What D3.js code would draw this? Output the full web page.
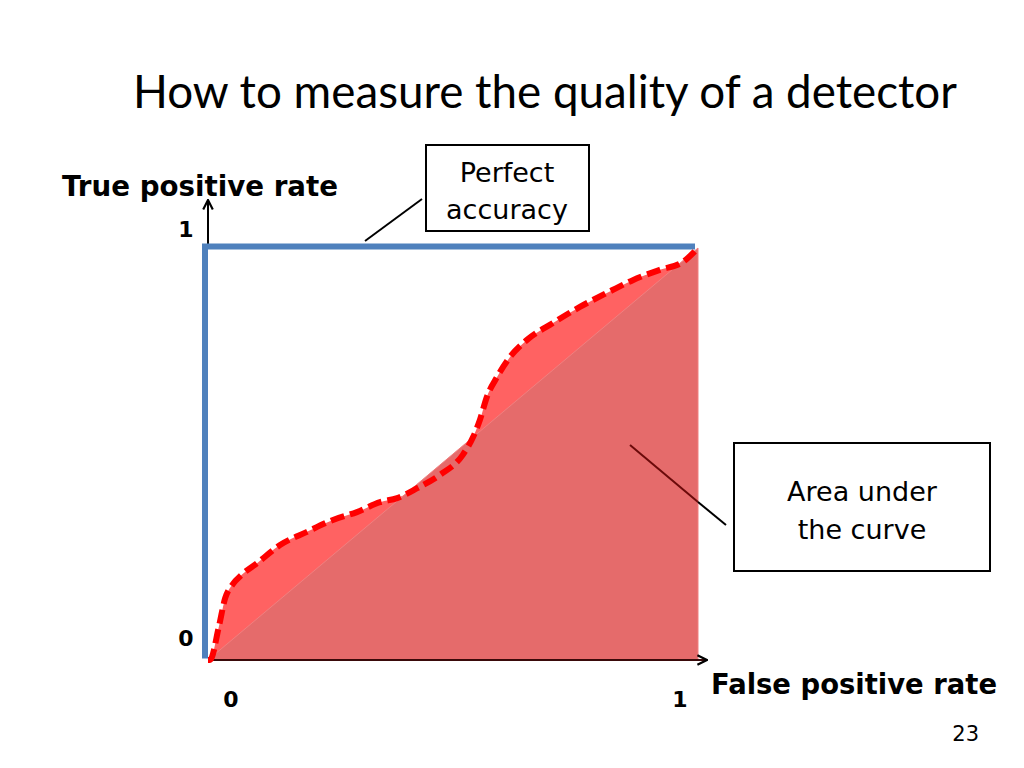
<!DOCTYPE html>
<html>
<head>
<meta charset="utf-8">
<script src="https://cdn.jsdelivr.net/npm/d3@7"></script>
<style>
  body { margin: 0; background: #fff; }
  svg { display: block; }
</style>
</head>
<body>
<div id="chart"></div>
<script>
// ROC curve (false positive rate, true positive rate)
const fpr = [0, 0.004, 0.022, 0.035, 0.05, 0.07, 0.10, 0.147, 0.202, 0.255, 0.304, 0.351, 0.386, 0.427, 0.473, 0.52, 0.541, 0.555, 0.569, 0.59, 0.616, 0.651, 0.704, 0.759, 0.814, 0.867, 0.922, 0.969, 1.0];
const tpr = [0, 0.0, 0.08, 0.15, 0.183, 0.208, 0.235, 0.279, 0.311, 0.34, 0.359, 0.383, 0.393, 0.417, 0.449, 0.498, 0.541, 0.583, 0.638, 0.687, 0.735, 0.777, 0.818, 0.857, 0.891, 0.922, 0.947, 0.966, 1.0];
const perfectFpr = [0, 0, 1];
const perfectTpr = [0, 1, 1];
const xTicks = [0, 1];
const yTicks = [0, 1];

const width = 1024;
const height = 768;

const svg = d3
    .select('#chart')
    .append('svg')
    .attr('width', width)
    .attr('height', height);

const x = d3.scaleLinear().domain([0, 1]).range([208, 698]);
const y = d3.scaleLinear().domain([0, 1]).range([660, 248]);

const roc = fpr.map((d, i) => ({ x: d, y: tpr[i] }));

// title
svg.append('text')
    .attr('x', 545)
    .attr('y', 108)
    .attr('text-anchor', 'middle')
    .style('font-family', 'Lato, "Noto Sans", sans-serif')
    .style('font-size', '47px')
    .attr('textLength', 824)
    .attr('lengthAdjust', 'spacingAndGlyphs')
    .text('How to measure the quality of a detector');

// area under the curve
const area = d3
    .area()
    .x((d) => x(d.x))
    .y0(y(0))
    .y1((d) => y(d.y))
    .curve(d3.curveMonotoneX);

svg.append('path')
    .datum(roc)
    .attr('d', area)
    .attr('fill', '#ff6262');

// random-guess triangle under the diagonal
const diag = [{ x: 0, y: 0 }, { x: 1, y: 1 }, { x: 1, y: 0 }];
svg.append('path')
    .datum(diag)
    .attr('d', d3.line().x((d) => x(d.x)).y((d) => y(d.y)))
    .attr('fill', '#e56b6b')
    .attr('stroke', '#f08080')
    .attr('stroke-width', 1);

// arrow marker
svg.append('defs')
    .append('marker')
    .attr('id', 'arrow')
    .attr('viewBox', '0 0 10 10')
    .attr('refX', 9)
    .attr('refY', 5)
    .attr('markerWidth', 6)
    .attr('markerHeight', 6)
    .attr('orient', 'auto')
    .append('path')
    .attr('d', 'M1,1 L9,5 L1,9')
    .attr('fill', 'none')
    .attr('stroke', '#000')
    .attr('stroke-width', 1.8);

// axes
svg.append('line')
    .attr('x1', x(0))
    .attr('y1', y(0))
    .attr('x2', x(1) + 9)
    .attr('y2', y(0))
    .attr('stroke', '#3a0a0a')
    .attr('stroke-width', 2)
    .attr('marker-end', 'url(#arrow)');

svg.append('line')
    .attr('x1', x(0))
    .attr('y1', y(1))
    .attr('x2', x(0))
    .attr('y2', y(1) - 48)
    .attr('stroke', '#000')
    .attr('stroke-width', 2)
    .attr('marker-end', 'url(#arrow)');

// perfect accuracy
svg.append('path')
    .datum(perfectFpr.map((d, i) => ({ x: d, y: perfectTpr[i] })))
    .attr('d', d3.line().x((d) => x(d.x)).y((d) => y(d.y)))
    .attr('transform', 'translate(-3,-1.5)')
    .attr('fill', 'none')
    .attr('stroke', '#4f81bd')
    .attr('stroke-width', 6);

// dashed ROC curve
svg.append('path')
    .datum(roc)
    .attr(
        'd',
        d3.line().x((d) => x(d.x)).y((d) => y(d.y)).curve(d3.curveMonotoneX)
    )
    .attr('fill', 'none')
    .attr('stroke', '#ff0000')
    .attr('stroke-width', 6)
    .attr('stroke-dasharray', '14,6');

// tick labels
const boldFont = '"DejaVu Sans", Verdana, sans-serif';
svg.selectAll('text.xtick')
    .data(xTicks)
    .enter()
    .append('text')
    .attr('class', 'xtick')
    .attr('x', (d) => x(d) + (d === 0 ? 23 : -18))
    .attr('y', 707)
    .attr('text-anchor', 'middle')
    .style('font-family', boldFont)
    .style('font-weight', 'bold')
    .style('font-size', '22px')
    .text((d) => d);

svg.selectAll('text.ytick')
    .data(yTicks)
    .enter()
    .append('text')
    .attr('class', 'ytick')
    .attr('x', 186)
    .attr('y', (d) => y(d) + (d === 0 ? -14 : -11))
    .attr('text-anchor', 'middle')
    .style('font-family', boldFont)
    .style('font-weight', 'bold')
    .style('font-size', '22px')
    .text((d) => d);

// axis titles
svg.append('text')
    .attr('x', 62)
    .attr('y', 196)
    .style('font-family', boldFont)
    .style('font-weight', 'bold')
    .style('font-size', '28px')
    .attr('textLength', 276)
    .attr('lengthAdjust', 'spacingAndGlyphs')
    .text('True positive rate');

svg.append('text')
    .attr('x', 711)
    .attr('y', 694)
    .style('font-family', boldFont)
    .style('font-weight', 'bold')
    .style('font-size', '28px')
    .attr('textLength', 286)
    .attr('lengthAdjust', 'spacingAndGlyphs')
    .text('False positive rate');

// callouts
const calloutFont = '"DejaVu Sans", Tahoma, sans-serif';

svg.append('line')
    .attr('x1', 365).attr('y1', 241)
    .attr('x2', 422).attr('y2', 199)
    .attr('stroke', '#000')
    .attr('stroke-width', 2);

svg.append('rect')
    .attr('x', 426).attr('y', 145)
    .attr('width', 163).attr('height', 86)
    .attr('fill', '#fff')
    .attr('stroke', '#000')
    .attr('stroke-width', 2);

svg.append('text')
    .attr('x', 507)
    .attr('text-anchor', 'middle')
    .style('font-family', calloutFont)
    .style('font-size', '27px')
    .selectAll('tspan')
    .data(['Perfect', 'accuracy'])
    .enter()
    .append('tspan')
    .attr('x', 507)
    .attr('y', (d, i) => 182 + i * 37)
    .text((d) => d);

svg.append('line')
    .attr('x1', 630).attr('y1', 445)
    .attr('x2', x(1)).attr('y2', 502)
    .attr('stroke', '#6b0a0a')
    .attr('stroke-width', 2);
svg.append('line')
    .attr('x1', x(1)).attr('y1', 502)
    .attr('x2', 726).attr('y2', 525)
    .attr('stroke', '#000')
    .attr('stroke-width', 2);

svg.append('rect')
    .attr('x', 734).attr('y', 443)
    .attr('width', 256).attr('height', 128)
    .attr('fill', '#fff')
    .attr('stroke', '#000')
    .attr('stroke-width', 2);

svg.append('text')
    .style('font-family', calloutFont)
    .style('font-size', '27px')
    .attr('text-anchor', 'middle')
    .selectAll('tspan')
    .data(['Area under', 'the curve'])
    .enter()
    .append('tspan')
    .attr('x', 862)
    .attr('y', (d, i) => 501 + i * 38)
    .text((d) => d);

// slide number
svg.append('text')
    .attr('x', 979)
    .attr('y', 741)
    .attr('text-anchor', 'end')
    .style('font-family', calloutFont)
    .style('font-size', '21px')
    .text('23');
</script>
</body>
</html>
